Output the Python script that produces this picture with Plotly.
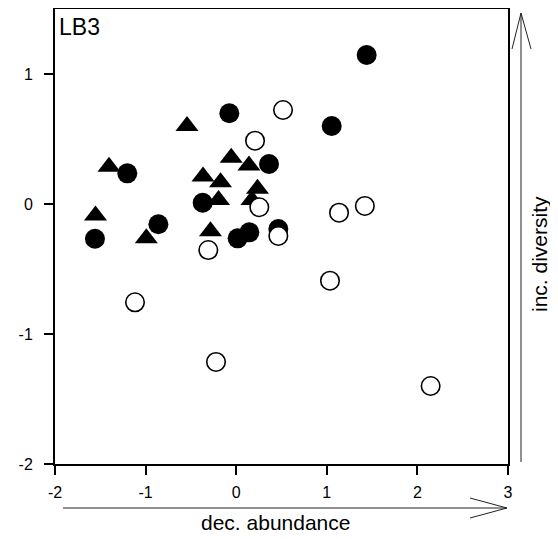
import plotly.graph_objects as go

# Data
filled_x = [1.44, 1.054, -0.076, 0.362, -1.202, -0.370, -1.559, -0.859, 0.016, 0.145, 0.465]
filled_y = [1.146, 0.60, 0.698, 0.308, 0.236, 0.01, -0.267, -0.156, -0.264, -0.218, -0.192]

tri_x = [-0.543, -1.404, -1.553, -0.992, -0.366, -0.173, -0.055, -0.195, 0.141, 0.235, 0.174, -0.284]
tri_y = [0.60, 0.286, -0.089, -0.263, 0.212, 0.168, 0.356, 0.03, 0.296, 0.117, 0.03, -0.209]

open_x = [0.517, 0.208, 0.255, 0.465, -0.308, 1.135, 1.42, 1.035, 2.146, -1.117, -0.223]
open_y = [0.723, 0.487, -0.025, -0.246, -0.354, -0.067, -0.015, -0.59, -1.4, -0.756, -1.215]

x_ticks = [-2, -1, 0, 1, 2, 3]
y_ticks = [-2, -1, 0, 1]
panel_label = "LB3"
x_title = "dec. abundance"
y_title = "inc. diversity"

OFF = 8  # browser default body margin
W, H = 558 - OFF, 539 - OFF
L, R, T, B = 55, 508, 9, 464  # plot area in page pixels


def px(p):
    return (p - L) / (R - L)


def py(p):
    return (B - p) / (B - T)


FONT = "Arial, Liberation Sans, sans-serif"

fig = go.Figure()
fig.add_trace(go.Scatter(x=filled_x, y=filled_y, mode="markers",
                         marker=dict(symbol="circle", size=20, color="black",
                                     line=dict(width=0)),
                         hoverinfo="skip", showlegend=False))
fig.add_trace(go.Scatter(x=tri_x, y=tri_y, mode="markers",
                         marker=dict(symbol="triangle-up", size=20, color="black",
                                     line=dict(width=0)),
                         hoverinfo="skip", showlegend=False))
fig.add_trace(go.Scatter(x=open_x, y=open_y, mode="markers",
                         marker=dict(symbol="circle", size=18.5, color="white",
                                     line=dict(width=1.6, color="black")),
                         hoverinfo="skip", showlegend=False))

axis_common = dict(showgrid=False, zeroline=False, showline=True, linecolor="black",
                   linewidth=2, mirror=True, ticks="outside", ticklen=9, tickwidth=1.5,
                   tickcolor="black", tickfont=dict(family=FONT, size=16, color="black"),
                   automargin=False)

fig.update_xaxes(range=[-2, 3], tickvals=x_ticks, ticktext=[str(v) for v in x_ticks],
                 ticklabelstandoff=4, **axis_common)
fig.update_yaxes(range=[-2, 1.5], tickvals=y_ticks, ticktext=[str(v) for v in y_ticks],
                 ticklabelstandoff=8, **axis_common)

line = dict(color="#222222", width=1)
shapes = [
    # vertical arrow (inc. diversity)
    dict(type="line", xref="paper", yref="paper", x0=px(521), x1=px(521), y0=py(462), y1=py(13), line=line),
    dict(type="path", xref="paper", yref="paper",
         path=f"M {px(512)},{py(49)} L {px(521)},{py(13)} L {px(531)},{py(49)}", line=line),
    # horizontal arrow (dec. abundance)
    dict(type="line", xref="paper", yref="paper", x0=px(63), x1=px(507), y0=py(508), y1=py(508), line=line),
    dict(type="path", xref="paper", yref="paper",
         path=f"M {px(470)},{py(498)} L {px(507)},{py(508)} L {px(470)},{py(518)}", line=line),
]

annotations = [
    dict(text=panel_label, xref="paper", yref="paper", x=px(57), y=py(12), xanchor="left",
         yanchor="top", showarrow=False, font=dict(family=FONT, size=23, color="black")),
    dict(text=x_title, xref="paper", yref="paper", x=px(275), y=py(522), xanchor="center",
         yanchor="middle", showarrow=False, font=dict(family=FONT, size=21, color="black")),
    dict(text=y_title, xref="paper", yref="paper", x=px(539), y=py(254), xanchor="center",
         yanchor="middle", textangle=-90, showarrow=False,
         font=dict(family=FONT, size=21, color="black")),
]

fig.update_layout(width=W, height=H,
                  margin=dict(l=L - OFF, r=W - (R - OFF), t=T - OFF, b=H - (B - OFF), pad=0),
                  paper_bgcolor="white", plot_bgcolor="white",
                  shapes=shapes, annotations=annotations, showlegend=False)

fig.write_html("out.html")
